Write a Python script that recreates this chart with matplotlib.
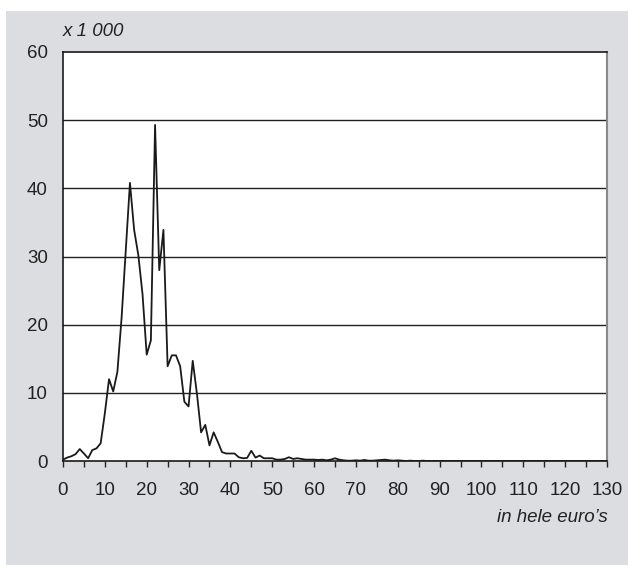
import numpy as np
import matplotlib.pyplot as plt
from matplotlib.patches import Rectangle
from matplotlib.ticker import MultipleLocator

plt.rcParams['font.family'] = ['Liberation Sans', 'DejaVu Sans']

# bedrag in hele euro's (0..130) en aantal x 1 000
amounts = np.arange(0, 131)
counts = [
    0.2, 0.5, 0.7, 1.0, 1.75, 1.1, 0.4, 1.6, 1.85, 2.6,
    7.0, 12.0, 10.2, 13.1, 21.0, 31.0, 40.8, 33.9, 30.2, 24.5,
    15.6, 17.7, 49.3, 28.0, 33.9, 13.9, 15.5, 15.5, 13.9, 8.7,
    8.0, 14.7, 9.9, 4.2, 5.3, 2.3, 4.2, 2.8, 1.3, 1.1,
    1.1, 1.1, 0.55, 0.4, 0.45, 1.5, 0.5, 0.8, 0.4, 0.4,
    0.4, 0.2, 0.2, 0.3, 0.55, 0.3, 0.4, 0.3, 0.2, 0.2,
    0.2, 0.15, 0.2, 0.1, 0.2, 0.4, 0.2, 0.1, 0.05, 0.05,
    0.1, 0.05, 0.15, 0.05, 0.05, 0.1, 0.15, 0.2, 0.1, 0.05,
    0.1, 0.05, 0.0, 0.05, 0.0, 0.0, 0.05, 0.0, 0.0, 0.0,
    0.0, 0.0, 0.0, 0.0, 0.0, 0.0, 0.0, 0.0, 0.0, 0.0,
    0.0, 0.0, 0.0, 0.0, 0.0, 0.0, 0.0, 0.0, 0.0, 0.0,
    0.0, 0.0, 0.0, 0.0, 0.0, 0.0, 0.0, 0.0, 0.0, 0.0,
    0.0, 0.0, 0.0, 0.0, 0.0, 0.0, 0.0, 0.0, 0.0, 0.0,
    0.0,
]
y_ticks = [0, 10, 20, 30, 40, 50, 60]
x_ticks = list(range(0, 131, 10))

fig = plt.figure(figsize=(6.28, 5.65), dpi=100)
fig.patch.set_facecolor('white')

# grijze achtergrond
bg = Rectangle((6 / 628, 0), 1, 1 - 11 / 565, transform=fig.transFigure,
               facecolor='#dcdde0', edgecolor='none', zorder=-10)
fig.add_artist(bg)

ax = fig.add_axes([63 / 628, 1 - 461 / 565, 544 / 628, 409 / 565])
ax.set_zorder(5)
ax.set_facecolor('white')

ax.plot(amounts, counts, color='#1a1a1a', linewidth=1.3, zorder=3)

ax.set_xlim(0, 130)
ax.set_ylim(0, 60)
ax.set_yticks(y_ticks)
ax.set_xticks(x_ticks)
ax.xaxis.set_minor_locator(MultipleLocator(5))

for y in y_ticks[1:-1]:
    ax.axhline(y, color='#222222', linewidth=1.0, zorder=1)

ax.tick_params(axis='y', length=0, pad=11, labelsize=13.5, colors='#222222')
ax.tick_params(axis='x', which='both', direction='out', length=4, width=1,
               color='#222222', pad=11, labelsize=13.5, labelcolor='#222222')

for side in ['left', 'top', 'bottom']:
    ax.spines[side].set_color('#1a1a1a')
    ax.spines[side].set_linewidth(1.2)
ax.spines['right'].set_color('#888888')
ax.spines['right'].set_linewidth(1.5)

fig.text(63 / 628, 1 - 32 / 565, 'x 1 000', fontsize=13.5, style='italic',
         color='#222222', ha='left', va='center', zorder=6)
fig.text(608 / 628, 1 - 517 / 565, "in hele euro\u2019s", fontsize=13.5, style='italic',
         color='#222222', ha='right', va='center', zorder=6)

fig.savefig('out.png', dpi=100)
